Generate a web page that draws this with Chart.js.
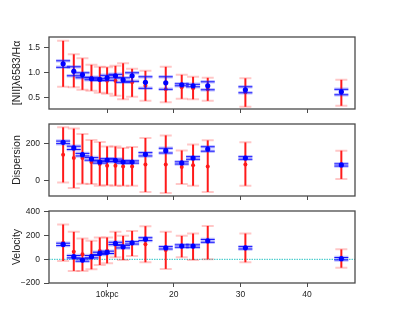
<!DOCTYPE html>
<html>
<head>
<meta charset="utf-8">
<script src="https://cdn.jsdelivr.net/npm/chart.js@4.4.1/dist/chart.umd.min.js"></script>
<style>
  body { margin: 0; background: #fff; }
  #wrap { position: relative; width: 394px; height: 319px; }
  canvas { position: absolute; left: 0; top: 0; }
</style>
</head>
<body>
<div id="wrap">
  <canvas id="nii" width="394" height="319"></canvas>
  <canvas id="disp" width="394" height="319"></canvas>
  <canvas id="vel" width="394" height="319"></canvas>
</div>
<script>
// radius (kpc)
const dist = [3.4, 5.0, 6.3, 7.65, 8.9, 10.0, 11.25, 12.4, 13.75, 15.75, 18.8, 21.2, 22.9, 25.1, 30.75, 45.15];
const xTicks = [10, 20, 30, 40];
const xTickLabels = ["10kpc", "20", "30", "40"];

// [NII]/Ha
const niiRed    = [1.17, 1.03, 0.96, 0.89, 0.85, 0.83, 0.83, 0.83, 0.80, 0.73, 0.66, 0.70, 0.68, 0.66, 0.60, 0.60];
const niiRedLo  = [0.71, 0.70, 0.65, 0.63, 0.59, 0.57, 0.53, 0.46, 0.51, 0.43, 0.40, 0.47, 0.46, 0.43, 0.31, 0.33];
const niiRedHi  = [1.63, 1.36, 1.28, 1.15, 1.11, 1.10, 1.13, 1.18, 1.07, 1.03, 1.11, 0.95, 0.91, 0.89, 0.88, 0.85];
const niiBlue   = [1.17, 1.02, 0.95, 0.87, 0.86, 0.89, 0.93, 0.85, 0.93, 0.80, 0.79, 0.75, 0.73, 0.73, 0.65, 0.61];
const niiBlueLo = [1.10, 0.93, 0.89, 0.85, 0.84, 0.84, 0.89, 0.80, 0.82, 0.68, 0.66, 0.73, 0.71, 0.65, 0.59, 0.55];
const niiBlueHi = [1.23, 1.11, 0.99, 0.90, 0.88, 0.94, 0.96, 0.89, 0.99, 0.91, 0.91, 0.77, 0.76, 0.81, 0.71, 0.66];
const niiTicks = [0.5, 1.0, 1.5];
const niiTickLabels = ["0.5", "1.0", "1.5"];

// dispersion
const dispRed    = [140, 122, 122, 100, 89, 80, 80, 76, 76, 86, 86, 73, 82, 76, 86, 84];
const dispRedLo  = [-11, -41, -18, -20, -29, -27, -29, -29, -29, -63, -69, -20, -29, -63, -29, 8];
const dispRedHi  = [289, 282, 253, 220, 209, 185, 185, 177, 182, 231, 245, 163, 195, 218, 207, 162];
const dispBlue   = [207, 177, 140, 117, 100, 111, 109, 100, 100, 142, 162, 95, 122, 171, 122, 84];
const dispBlueLo = [200, 168, 133, 110, 94, 104, 102, 94, 94, 133, 149, 89, 115, 159, 115, 78];
const dispBlueHi = [214, 186, 147, 124, 106, 118, 116, 106, 106, 151, 175, 101, 129, 183, 129, 90];
const dispTicks = [0, 200];
const dispTickLabels = ["0", "200"];

// velocity
const velRed    = [139, 64, 42, 30, 70, 72, 125, 97, 135, 128, 78, 110, 108, 150, 97, 5];
const velRedLo  = [-14, -98, -98, -84, -48, -34, 17, -6, 28, -25, -81, 17, -6, 0, -25, -71];
const velRedHi  = [294, 232, 176, 156, 185, 185, 232, 198, 240, 280, 232, 198, 218, 282, 218, 84];
const velBlue   = [126, 22, -6, 22, 50, 59, 134, 106, 139, 170, 97, 112, 112, 156, 97, 5];
const velBlueLo = [116, 12, -16, 12, 40, 49, 124, 96, 129, 158, 87, 102, 102, 144, 87, -5];
const velBlueHi = [136, 32, 4, 32, 60, 69, 144, 116, 149, 182, 107, 122, 122, 168, 107, 15];
const velTicks = [-200, 0, 200, 400];
const velTickLabels = ["\u2212200", "0", "200", "400"];

const FONT = "'Liberation Sans', Arial, sans-serif";
const AXIS = '#4a4a4a';

// error bars drawn just before each dataset's points
const errorBars = {
  id: 'errorBars',
  beforeDatasetDraw(chart, args) {
    const ds = chart.data.datasets[args.index];
    if (!ds.lo) return;
    const ctx = chart.ctx, xs = chart.scales.x, ys = chart.scales.y;
    ctx.save();
    ds.data.forEach((p, i) => {
      const px = xs.getPixelForValue(p.x);
      const yl = ys.getPixelForValue(ds.lo[i]);
      const yh = ys.getPixelForValue(ds.hi[i]);
      if (ds.isRed) {
        ctx.strokeStyle = 'rgba(255,0,0,0.22)';
        ctx.lineWidth = 2;
        ctx.beginPath();
        ctx.moveTo(px - 6, yl); ctx.lineTo(px + 6, yl);
        ctx.moveTo(px - 6, yh); ctx.lineTo(px + 6, yh);
        ctx.stroke();
        ctx.strokeStyle = '#ff1a1a';
        ctx.lineWidth = 2;
        ctx.beginPath();
        ctx.moveTo(px, yl); ctx.lineTo(px, yh);
        ctx.stroke();
      } else {
        ctx.strokeStyle = 'rgba(40,40,255,0.28)';
        ctx.lineWidth = 3.5;
        ctx.beginPath();
        ctx.moveTo(px - 7, yl); ctx.lineTo(px + 7, yl);
        ctx.moveTo(px - 7, yh); ctx.lineTo(px + 7, yh);
        ctx.stroke();
        ctx.strokeStyle = '#1010ff';
        ctx.lineWidth = 1;
        ctx.beginPath();
        ctx.moveTo(px - 7, yl); ctx.lineTo(px + 7, yl);
        ctx.moveTo(px - 7, yh); ctx.lineTo(px + 7, yh);
        ctx.moveTo(px, yl); ctx.lineTo(px, yh);
        ctx.stroke();
      }
    });
    ctx.restore();
  }
};

const frame = {
  id: 'frame',
  beforeDatasetsDraw(chart) {
    const a = chart.chartArea, ctx = chart.ctx;
    if (chart.options.zeroLine) {
      const y0 = chart.scales.y.getPixelForValue(0);
      ctx.save();
      ctx.strokeStyle = '#2cc4c4';
      ctx.lineWidth = 1;
      ctx.setLineDash([1.5, 1]);
      ctx.beginPath();
      ctx.moveTo(a.left, y0); ctx.lineTo(a.right, y0);
      ctx.stroke();
      ctx.restore();
    }
  },
  afterDraw(chart) {
    const a = chart.chartArea, ctx = chart.ctx;
    ctx.save();
    ctx.strokeStyle = AXIS;
    ctx.lineWidth = 1.3;
    ctx.strokeRect(a.left, a.top, a.right - a.left, a.bottom - a.top);
    ctx.restore();
  }
};

function panel(id, top, bottom, yMin, yMax, yTicks, yLabels, title, red, redLo, redHi, blue, blueLo, blueHi, showX, zeroLine) {
  const xH = showX ? 20 : 6;
  new Chart(document.getElementById(id), {
    type: 'scatter',
    data: {
      datasets: [
        {
          data: dist.map((x, i) => ({ x: x, y: blue[i] })),
          lo: blueLo, hi: blueHi, isRed: false,
          pointRadius: 2.6, pointBackgroundColor: '#0000ff', pointBorderWidth: 0
        },
        {
          data: dist.map((x, i) => ({ x: x, y: red[i] })),
          lo: redLo, hi: redHi, isRed: true,
          pointRadius: 2, pointBackgroundColor: '#ff1a1a', pointBorderWidth: 0
        }
      ]
    },
    options: {
      responsive: false,
      animation: false,
      events: [],
      zeroLine: zeroLine,
      layout: { padding: { top: top, bottom: 319 - bottom - xH, left: 0, right: 39 } },
      plugins: { legend: { display: false }, tooltip: { enabled: false } },
      scales: {
        x: {
          type: 'linear', min: 1.28, max: 47.2,
          afterBuildTicks: s => { s.ticks = xTicks.map(v => ({ value: v })); },
          afterFit: s => { s.height = xH; },
          border: { display: false },
          grid: { drawOnChartArea: false, drawTicks: true, tickLength: 4, color: AXIS, tickWidth: 1 },
          ticks: {
            display: showX, padding: 3, maxRotation: 0,
            color: '#222', font: { family: FONT, size: 8.5 },
            callback: (v, i) => xTickLabels[i]
          }
        },
        y: {
          min: yMin, max: yMax,
          afterBuildTicks: s => { s.ticks = yTicks.map(v => ({ value: v })); },
          afterFit: s => { s.width = 49; },
          border: { display: false },
          grid: { drawOnChartArea: false, drawTicks: true, tickLength: 5, color: AXIS, tickWidth: 1 },
          ticks: {
            padding: 4, color: '#222', font: { family: FONT, size: 8.5 },
            callback: (v, i) => yLabels[i]
          },
          title: {
            display: true, text: title, color: '#222',
            font: { family: FONT, size: 10.5 },
            padding: { top: 11, bottom: 0 }
          }
        }
      }
    },
    plugins: [errorBars, frame]
  });
}

panel('nii', 37, 109, 0.266, 1.706, niiTicks, niiTickLabels, '[NII]\u03bb6583/H\u03b1',
  niiRed, niiRedLo, niiRedHi, niiBlue, niiBlueLo, niiBlueHi, false, false);
panel('disp', 124, 196, -85, 307, dispTicks, dispTickLabels, 'Dispersion',
  dispRed, dispRedLo, dispRedHi, dispBlue, dispBlueLo, dispBlueHi, false, false);
panel('vel', 211, 283, -200, 408, velTicks, velTickLabels, 'Velocity',
  velRed, velRedLo, velRedHi, velBlue, velBlueLo, velBlueHi, true, true);
</script>
</body>
</html>
